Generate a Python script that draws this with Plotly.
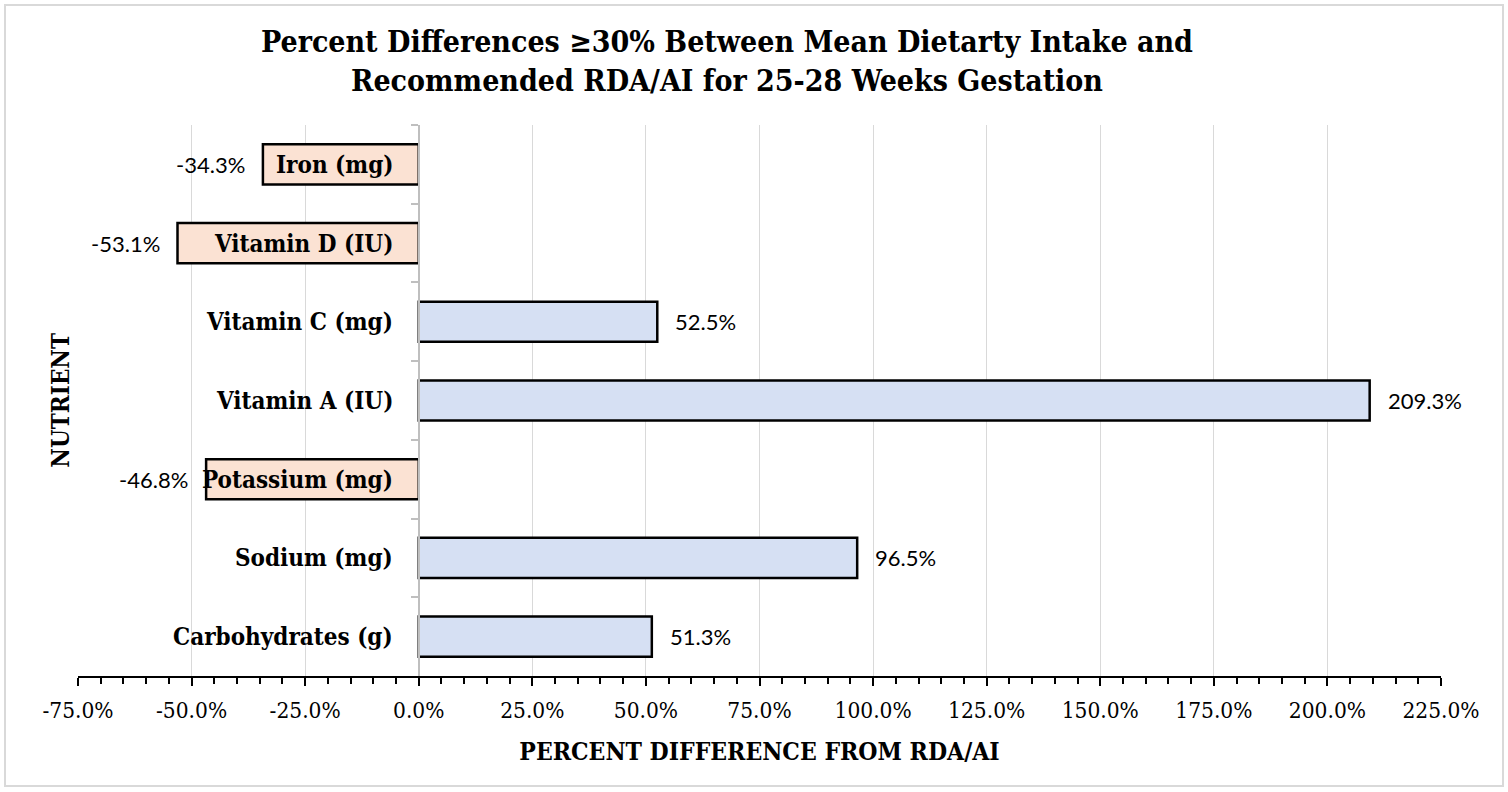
import plotly.graph_objects as go

nutrients = ["Iron (mg)", "Vitamin D (IU)", "Vitamin C (mg)", "Vitamin A (IU)",
             "Potassium (mg)", "Sodium (mg)", "Carbohydrates (g)"]
pct_diff = [-34.3, -53.1, 52.5, 209.3, -46.8, 96.5, 51.3]
x_ticks = [-75, -50, -25, 0, 25, 50, 75, 100, 125, 150, 175, 200, 225]

NEG_COLOR = "#FBE2D3"
POS_COLOR = "#D6E0F3"
colors = [NEG_COLOR if v < 0 else POS_COLOR for v in pct_diff]

SERIF = "DejaVu Serif Condensed"
SANS = "Lato"

fig = go.Figure()
fig.add_trace(go.Bar(
    x=pct_diff, y=nutrients, orientation="h",
    marker=dict(color=colors, line=dict(color="black", width=2.5)),
    hoverinfo="skip",
))

for n, v in zip(nutrients, pct_diff):
    fig.add_annotation(
        x=v, y=n, xref="x", yref="y", text=f"{v:.1f}%", showarrow=False,
        xanchor="right" if v < 0 else "left", xshift=-16 if v < 0 else 16,
        font=dict(family=SANS, size=22, color="black"),
    )
    fig.add_annotation(
        x=0, y=n, xref="x", yref="y", text=f"<b>{n}</b>", showarrow=False,
        xanchor="right", xshift=-24,
        font=dict(family=SERIF, size=24, color="black"),
    )

fig.add_annotation(
    x=-0.013, y=0.5, xref="paper", yref="paper", text="<b>NUTRIENT</b>",
    textangle=-90, showarrow=False, xanchor="center", yanchor="middle",
    font=dict(family=SERIF, size=24, color="black"),
)

W, H = 1508, 792
L, R, T, B = 78, 67, 125, 116
pw, ph = W - L - R, H - T - B
fig.add_shape(
    type="rect", xref="paper", yref="paper",
    x0=(5 - L) / pw, x1=(1503 - L) / pw,
    y0=(H - B - 786) / ph, y1=(H - B - 5) / ph,
    line=dict(color="#D9D9D9", width=2), fillcolor="rgba(0,0,0,0)", layer="below",
)

fig.update_layout(
    width=W, height=H,
    margin=dict(l=L, r=R, t=T, b=B, autoexpand=False),
    paper_bgcolor="white", plot_bgcolor="white",
    bargap=0.49, showlegend=False,
    title=dict(
        text="<b>Percent Differences ≥30% Between Mean Dietarty Intake and<br>Recommended RDA/AI for 25-28 Weeks Gestation</b>",
        x=727 / W, xanchor="center", y=1 - 52 / H, yanchor="middle",
        font=dict(family=SERIF, size=30, color="black"),
    ),
    xaxis=dict(
        range=[-75, 225], tickvals=x_ticks,
        ticktext=[f"{t:.1f}%" for t in x_ticks],
        showgrid=True, gridcolor="#D9D9D9", gridwidth=1.3, zeroline=False,
        showline=True, linecolor="black", linewidth=2,
        ticks="outside", ticklen=8, tickwidth=2, tickcolor="black",
        minor=dict(dtick=5, ticks="outside", ticklen=6, tickwidth=1.5, tickcolor="black", showgrid=False),
        tickfont=dict(family=SERIF, size=22.5, color="black"),
        ticklabelstandoff=5,
        title=dict(text="<b>PERCENT DIFFERENCE FROM RDA/AI</b>", standoff=21,
                   font=dict(family=SERIF, size=24.5, color="black")),
    ),
    yaxis=dict(
        categoryorder="array", categoryarray=nutrients, autorange="reversed",
        anchor="free", position=0.25,
        showticklabels=False, showgrid=False, zeroline=False,
        showline=True, linecolor="#BFBFBF", linewidth=1.5,
        ticks="outside", tickson="boundaries", ticklen=7, tickcolor="#BFBFBF", tickwidth=1.5,
    ),
)

fig.write_html("out.html")
